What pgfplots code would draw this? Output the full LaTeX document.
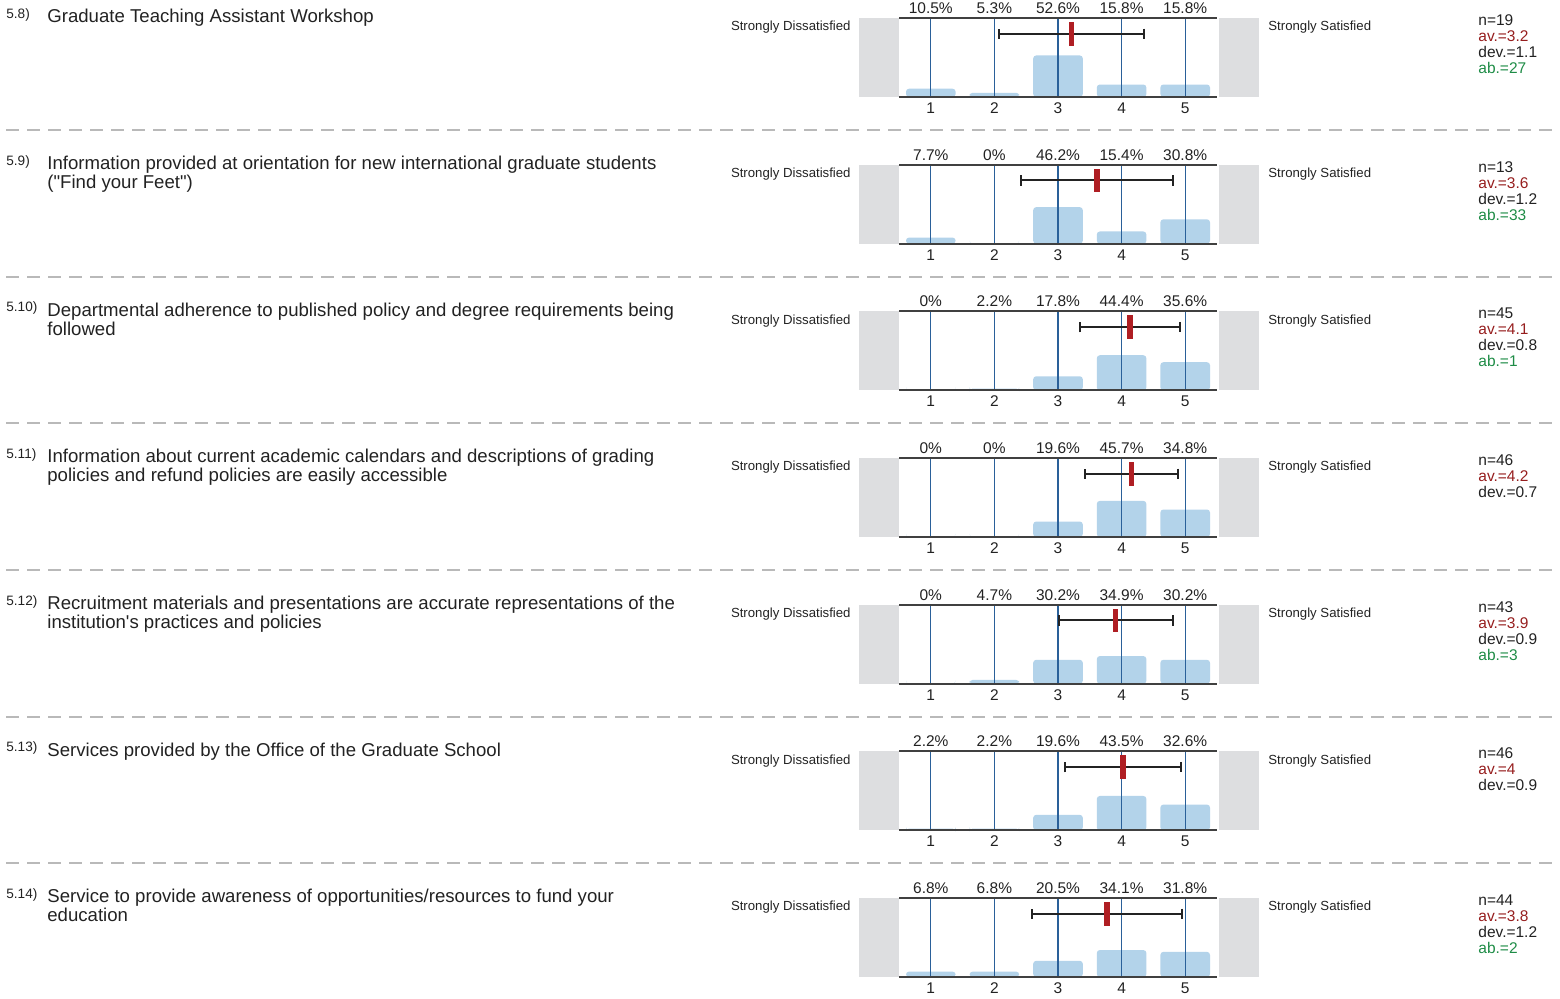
\documentclass[border=0pt]{standalone}
\usepackage{pgfplots}
\pgfplotsset{compat=1.18}
\usepackage{pgfplotstable}
\usepackage{fontspec}
\setmainfont{Liberation Sans}[Ligatures=TeXOff]

\definecolor{boxgray}{RGB}{221,222,224}
\definecolor{barblue}{RGB}{179,211,234}
\definecolor{gridblue}{RGB}{42,96,153}
\definecolor{axisgray}{RGB}{64,64,64}
\definecolor{errblack}{RGB}{35,35,35}
\definecolor{meanred}{RGB}{175,30,35}
\definecolor{avred}{RGB}{150,30,30}
\definecolor{abgreen}{RGB}{30,140,70}
\definecolor{sepgray}{RGB}{185,185,185}
\definecolor{textcol}{RGB}{34,34,34}

\newcommand\titlefont{\fontsize{9.3pt}{9.5pt}\selectfont}
\newcommand\numfont{\fontsize{6.8pt}{8pt}\selectfont}
\newcommand\sidefont{\fontsize{6.6pt}{8pt}\selectfont}
\newcommand\pctfont{\fontsize{7.75pt}{8pt}\selectfont}

\pgfkeys{/pgf/number format/assume math mode=true}

% red rounded bar for the mean
\pgfdeclareplotmark{meanbar}{%
  \pgfsetcornersarced{\pgfpoint{1.3pt}{1.3pt}}%
  \pgfpathrectangle{\pgfpoint{-1.35pt}{-5.9pt}}{\pgfpoint{2.7pt}{11.8pt}}%
  \pgfusepathqfill}

% percentages per answer 1..5
\pgfplotstableread{
x p
1 10.5
2 5.3
3 52.6
4 15.8
5 15.8
}\qA
\pgfplotstableread{
x p
1 7.7
2 0
3 46.2
4 15.4
5 30.8
}\qB
\pgfplotstableread{
x p
1 0
2 2.2
3 17.8
4 44.4
5 35.6
}\qC
\pgfplotstableread{
x p
1 0
2 0
3 19.6
4 45.7
5 34.8
}\qD
\pgfplotstableread{
x p
1 0
2 4.7
3 30.2
4 34.9
5 30.2
}\qE
\pgfplotstableread{
x p
1 2.2
2 2.2
3 19.6
4 43.5
5 32.6
}\qF
\pgfplotstableread{
x p
1 6.8
2 6.8
3 20.5
4 34.1
5 31.8
}\qG

\pgfplotsset{likert/.style={
  anchor=north west, width=159pt, height=39.5pt, scale only axis,
  xmin=0.5, xmax=5.5, ymin=0, ymax=100,
  axis on top, clip=false,
  separate axis lines,
  x axis line style={axisgray, line width=0.9pt},
  y axis line style={draw=none},
  xtick={1,2,3,4,5}, ytick=\empty,
  major tick length=0pt,
  xticklabel style={font=\pctfont, text=textcol, anchor=base, inner sep=0pt, yshift=-8.25pt},
}}

% #1 row, #2 number, #3 title, #4 table, #5 mean, #6 dev, #7 stats
\newcommand{\likertrow}[7]{%
  \pgfmathsetmacro\rtop{-(9+73.333*#1)}%
  \pgfmathsetmacro\rbot{\rtop-39.5}%
  \pgfmathsetmacro\rnum{\rtop-0.25}%
  \pgfmathsetmacro\rtitle{\rtop-2.5}%
  \pgfmathsetmacro\rside{\rtop-6.35}%
  \pgfmathsetmacro\rstat{\rtop-3.75}%
  \fill[boxgray] (429.5pt,\rtop pt) rectangle (449.5pt,\rbot pt);
  \fill[boxgray] (609.5pt,\rtop pt) rectangle (629.5pt,\rbot pt);
  \node[anchor=base west, inner sep=0pt, font=\numfont, text=textcol] at (3pt,\rnum pt) {#2};
  \node[anchor=base west, inner sep=0pt, font=\titlefont, text=textcol] at (23.5pt,\rtitle pt) {\parbox[t]{360pt}{\raggedright #3}};
  \node[anchor=base east, inner sep=0pt, font=\sidefont, text=textcol] at (425.5pt,\rside pt) {Strongly Dissatisfied};
  \node[anchor=base west, inner sep=0pt, font=\sidefont, text=textcol] at (634pt,\rside pt) {Strongly Satisfied};
  \node[anchor=base west, inner sep=0pt, font=\pctfont, text=textcol] at (739pt,\rstat pt) {\parbox[t]{60pt}{#7}};
  \begin{axis}[likert, at={(449.5pt,\rtop pt)}]
    \addplot[ybar, bar width=0.78, fill=barblue, draw=none, rounded corners=1.5pt] table[x=x, y=p] {#4};
    \addplot[ycomb, gridblue, line width=0.65pt, mark=none] coordinates {(1,100) (2,100) (3,100) (4,100) (5,100)};
    \addplot[only marks, mark=meanbar, mark options={fill=meanred, draw=none},
      error bars/.cd, x dir=both, x explicit,
      error mark=|,
      error bar style={errblack, line width=1pt},
      error mark options={errblack, line width=1pt, mark size=2.6pt}]
      coordinates {(#5,80) +- (#6,0)};
    \addplot[draw=none, mark=none, point meta=explicit,
      nodes near coords={\pgfmathprintnumber[fixed, precision=1]{\pgfplotspointmeta}\%},
      nodes near coords style={font=\pctfont, text=textcol, anchor=base, inner sep=0pt, yshift=2.25pt}]
      table[x=x, y expr=100, meta=p] {#4};
  \end{axis}
}

\begin{document}
\begin{tikzpicture}
\path[use as bounding box] (0,0) rectangle (780pt,-499.5pt);

\foreach \k in {0,...,5} {
  \pgfmathsetmacro\sy{-(65+73.333*\k)}
  \draw[sepgray, line width=1pt, dash pattern=on 6.3pt off 4.2pt] (3pt,\sy pt) -- (777.5pt,\sy pt);
}

\likertrow{0}{5.8)}{Graduate Teaching Assistant Workshop}{\qA}{3.211}{1.134}
  {n=19\\\textcolor{avred}{av.=3.2}\\dev.=1.1\\\textcolor{abgreen}{ab.=27}}
\likertrow{1}{5.9)}{Information provided at orientation for new international graduate students\\("Find your Feet")}{\qB}{3.615}{1.193}
  {n=13\\\textcolor{avred}{av.=3.6}\\dev.=1.2\\\textcolor{abgreen}{ab.=33}}
\likertrow{2}{5.10)}{Departmental adherence to published policy and degree requirements being\\followed}{\qC}{4.133}{0.786}
  {n=45\\\textcolor{avred}{av.=4.1}\\dev.=0.8\\\textcolor{abgreen}{ab.=1}}
\likertrow{3}{5.11)}{Information about current academic calendars and descriptions of grading\\policies and refund policies are easily accessible}{\qD}{4.152}{0.729}
  {n=46\\\textcolor{avred}{av.=4.2}\\dev.=0.7}
\likertrow{4}{5.12)}{Recruitment materials and presentations are accurate representations of the\\institution's practices and policies}{\qE}{3.907}{0.895}
  {n=43\\\textcolor{avred}{av.=3.9}\\dev.=0.9\\\textcolor{abgreen}{ab.=3}}
\likertrow{5}{5.13)}{Services provided by the Office of the Graduate School}{\qF}{4.022}{0.906}
  {n=46\\\textcolor{avred}{av.=4}\\dev.=0.9}
\likertrow{6}{5.14)}{Service to provide awareness of opportunities/resources to fund your\\education}{\qG}{3.773}{1.179}
  {n=44\\\textcolor{avred}{av.=3.8}\\dev.=1.2\\\textcolor{abgreen}{ab.=2}}
\end{tikzpicture}
\end{document}
